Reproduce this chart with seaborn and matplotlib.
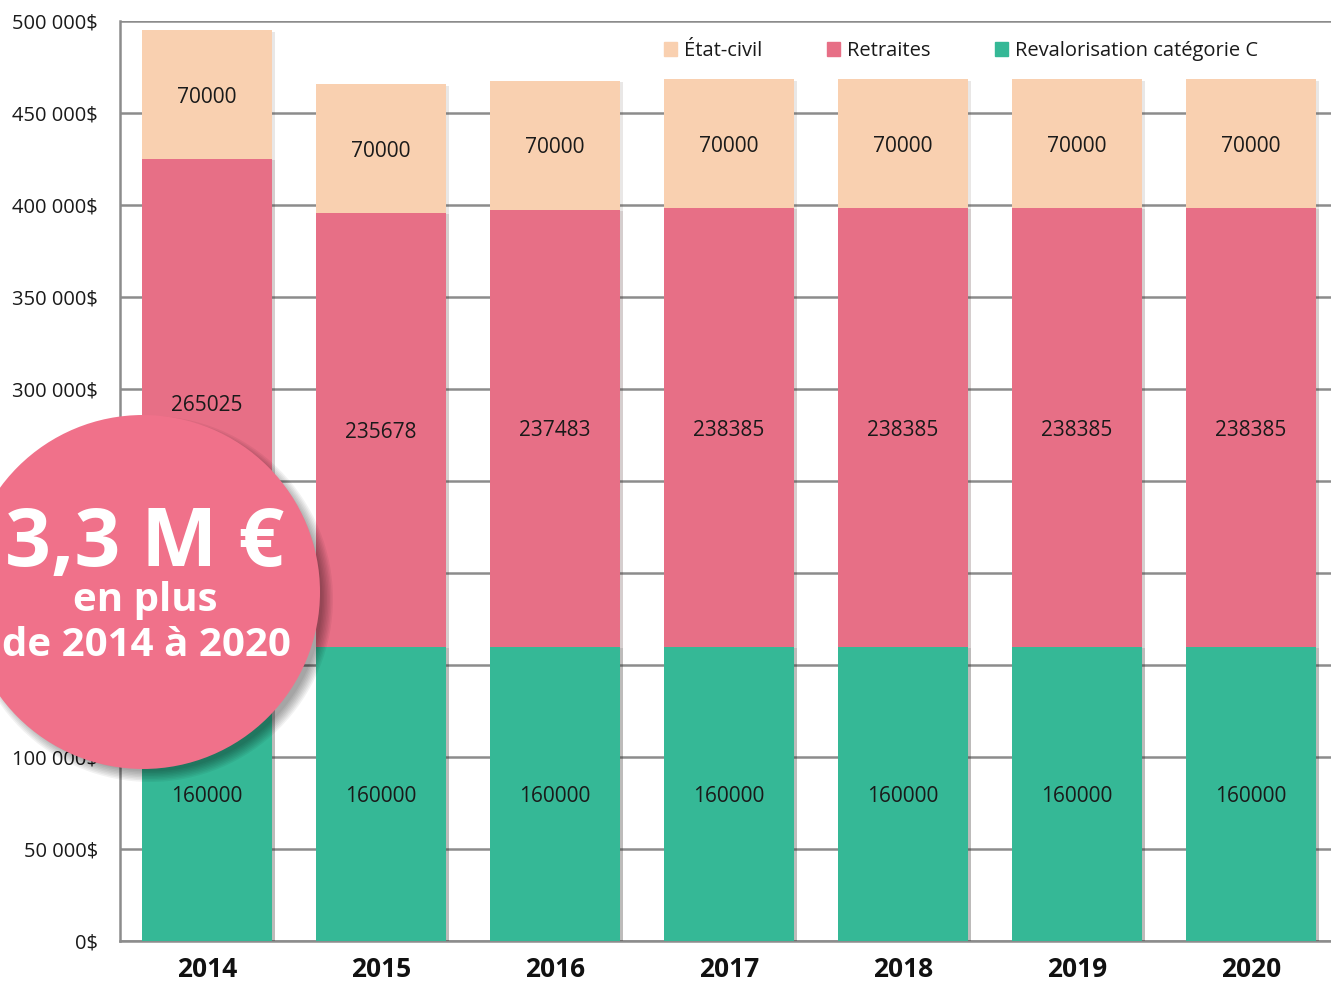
import numpy as np
import matplotlib
matplotlib.use("Agg")
import matplotlib.pyplot as plt
import matplotlib.patheffects as pe
from matplotlib.patches import Circle, Patch
from matplotlib.ticker import FixedLocator
import seaborn as sns

years = ["2014", "2015", "2016", "2017", "2018", "2019", "2020"]
revalorisation = [160000, 160000, 160000, 160000, 160000, 160000, 160000]
retraites = [265025, 235678, 237483, 238385, 238385, 238385, 238385]
etat_civil = [70000, 70000, 70000, 70000, 70000, 70000, 70000]
y_ticks = [0, 50000, 100000, 150000, 200000, 250000, 300000, 350000, 400000, 450000, 500000]

c_green = "#35b896"
c_pink = "#e76f86"
c_peach = "#f9d0b0"
c_circle = "#f0718a"
c_grid = "#8c8c8c"

sns.set_style("white")
plt.rcParams["font.family"] = ["Open Sans", "DejaVu Sans"]

fig = plt.figure(figsize=(13.31, 9.83), dpi=100)
ax = fig.add_axes([120 / 1331, 1 - 941 / 983, 1218 / 1331, 920 / 983])

reval = np.array(revalorisation)
retr = np.array(retraites)
etat = np.array(etat_civil)
tops = reval + retr + etat
mids = reval + retr

# stacked bars: draw cumulative totals, then overlay the lower segments
shadow = [pe.SimplePatchShadow(offset=(2, -1), alpha=0.12), pe.Normal()]
sns.barplot(x=years, y=tops, color=c_peach, width=0.75, saturation=1, ax=ax, zorder=3)
sns.barplot(x=years, y=mids, color=c_pink, width=0.75, saturation=1, ax=ax, zorder=3)
sns.barplot(x=years, y=reval, color=c_green, width=0.75, saturation=1, ax=ax, zorder=3)
for p in ax.patches:
    p.set_path_effects(shadow)
    p.set_linewidth(0)

for i in range(len(years)):
    for bottom, h in [(0, reval[i]), (reval[i], retr[i]), (mids[i], etat[i])]:
        ax.text(i, bottom + h / 2 - 1500, str(h), ha="center", va="center",
                fontsize=15, color="#1a1a1a", zorder=5)

ax.set_xlim(-0.5, 6.5)
ax.set_ylim(0, 500000)
ax.set_yticks(y_ticks)
ax.set_yticklabels([f"{v:,}".replace(",", " ") + "$" for v in y_ticks], fontsize=14.5,
                   color="#1a1a1a")
ax.yaxis.grid(True, color=c_grid, linewidth=1.8, zorder=0)
ax.set_axisbelow(True)
ax.tick_params(axis="y", length=6, width=1.6, color=c_grid, pad=10, direction="out")
ax.set_xticks(range(len(years)))
ax.set_xticklabels(years, fontsize=19, fontweight="bold", color="#111111")
ax.tick_params(axis="x", which="major", length=0, pad=11)
ax.xaxis.set_minor_locator(FixedLocator(np.arange(-0.5, 7, 1)))
ax.tick_params(axis="x", which="minor", length=4.5, width=1.6, color=c_grid, direction="out")
ax.set_xlabel("")
ax.set_ylabel("")
for s in ["top", "right"]:
    ax.spines[s].set_visible(False)
for s in ["left", "bottom"]:
    ax.spines[s].set_color(c_grid)
    ax.spines[s].set_linewidth(1.8)

handles = [Patch(color=c_peach), Patch(color=c_pink), Patch(color=c_green)]
fig.legend(handles, ["État-civil", "Retraites", "Revalorisation catégorie C"],
           loc="center left", bbox_to_anchor=(664 / 1331, 1 - 51 / 983), ncol=3,
           frameon=False, fontsize=14.5, handlelength=0.65, handleheight=0.65,
           handletextpad=0.35, columnspacing=3.2, borderaxespad=0, borderpad=0,
           labelcolor="#1a1a1a")

# pink bubble with soft shadow
cx, cy, r = 1.43, (983 - 592) / 100, 1.77
for k in range(8):
    fig.add_artist(Circle((cx + 0.07, cy - 0.07), r + 0.06 - k * 0.015,
                          transform=fig.dpi_scale_trans, color="black",
                          alpha=0.05, lw=0, zorder=10))
fig.add_artist(Circle((cx, cy), r, transform=fig.dpi_scale_trans,
                      color=c_circle, lw=0, zorder=11))
fig.text(145 / 1331, 1 - 545 / 983, "3,3 M €", ha="center", va="center",
         fontsize=58, fontweight="bold", color="white", zorder=12)
fig.text(145 / 1331, 1 - 601 / 983, "en plus", ha="center", va="center",
         fontsize=29, fontweight="bold", color="white", zorder=12)
fig.text(146 / 1331, 1 - 646 / 983, "de 2014 à 2020", ha="center", va="center",
         fontsize=29, fontweight="bold", color="white", zorder=12)

fig.savefig("out.png", dpi=100)
